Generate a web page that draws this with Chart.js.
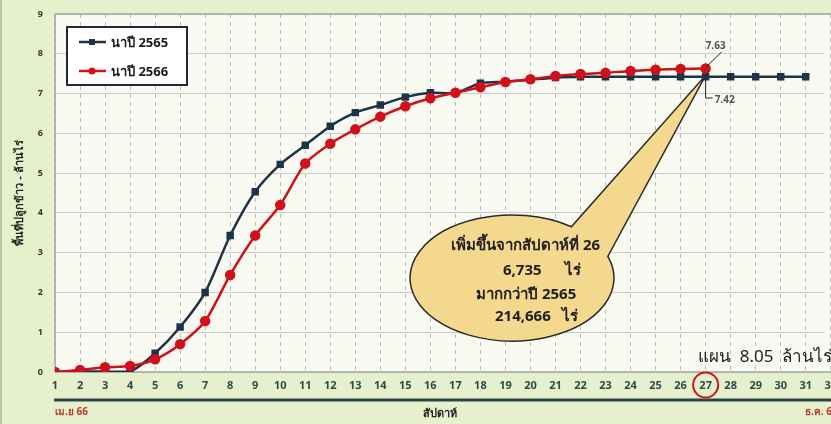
<!DOCTYPE html>
<html>
<head>
<meta charset="utf-8">
<script src="https://cdn.jsdelivr.net/npm/chart.js@4.4.0/dist/chart.umd.min.js"></script>
<style>
  body { margin: 0; background: #e6f0cc; }
</style>
</head>
<body>
<canvas id="riceChart" width="831" height="424"></canvas>
<script>
// weekly cumulative planted area, million rai
const weeks2565 = [1, 2, 3, 4, 5, 6, 7, 8, 9, 10, 11, 12, 13, 14, 15, 16, 17, 18, 19, 20, 21, 22, 23, 24, 25, 26, 27, 28, 29, 30, 31];
const area2565 = [0, 0.02, 0.01, 0.01, 0.47, 1.13, 2.0, 3.43, 4.53, 5.22, 5.7, 6.18, 6.52, 6.71, 6.91, 7.02, 7.02, 7.26, 7.3, 7.35, 7.4, 7.42, 7.42, 7.42, 7.42, 7.42, 7.42, 7.42, 7.42, 7.42, 7.42];
const weeks2566 = [1, 2, 3, 4, 5, 6, 7, 8, 9, 10, 11, 12, 13, 14, 15, 16, 17, 18, 19, 20, 21, 22, 23, 24, 25, 26, 27];
const area2566 = [0, 0.05, 0.12, 0.15, 0.32, 0.7, 1.28, 2.44, 3.43, 4.2, 5.24, 5.74, 6.1, 6.42, 6.68, 6.88, 7.02, 7.16, 7.29, 7.36, 7.44, 7.49, 7.52, 7.57, 7.6, 7.62, 7.63];
const weekTicks = weeks2565.concat([32]);

const seriesNames = ["นาปี 2565", "นาปี 2566"];
const calloutLines = ["เพิ่มขึ้นจากสัปดาห์ที่ 26", "6,735      ไร่", "มากกว่าปี 2565", "214,666   ไร่"];
const planText = "แผน  8.05  ล้านไร่";
const startLabel = "เม.ย 66";
const endLabel = "ธ.ค. 66";
const currentWeek = 27;

const navy = "#1d3447";
const red = "#d0111b";
const thaiFont = "Tahoma, 'Noto Sans', 'DejaVu Sans', sans-serif";

const toPoints = (xs, ys) => xs.map((x, i) => ({ x: x, y: ys[i] }));

const decorations = {
  id: "decorations",
  beforeDraw(chart) {
    const { ctx, chartArea: a, width, height } = chart;
    ctx.save();
    ctx.fillStyle = "#e6f0cc";
    ctx.fillRect(0, 0, width, height);
    ctx.fillStyle = "#f8f9f1";
    ctx.fillRect(a.left, a.top, width - a.left, a.bottom - a.top);
    ctx.strokeStyle = "#b9c4a5";
    ctx.lineWidth = 2;
    ctx.beginPath();
    ctx.moveTo(1, 0);
    ctx.lineTo(1, height);
    ctx.stroke();
    ctx.restore();
  },
  beforeDatasetsDraw(chart) {
    const { ctx, chartArea: a, width } = chart;
    ctx.save();
    ctx.strokeStyle = "#a4a4a4";
    ctx.lineWidth = 1.5;
    ctx.beginPath();
    ctx.moveTo(a.left, a.top);
    ctx.lineTo(width, a.top);
    ctx.moveTo(a.left, a.bottom);
    ctx.lineTo(width, a.bottom);
    ctx.moveTo(a.left, a.top);
    ctx.lineTo(a.left, a.bottom);
    ctx.stroke();
    ctx.restore();
  },
  afterDraw(chart) {
    const { ctx, chartArea: a, width } = chart;
    const xs = chart.scales.x, ys = chart.scales.y;
    ctx.save();

    // dark band line under week numbers
    ctx.strokeStyle = "#2a4646";
    ctx.lineWidth = 3;
    ctx.beginPath();
    ctx.moveTo(a.left - 1, 400);
    ctx.lineTo(width, 400);
    ctx.stroke();

    ctx.fillStyle = "#c0392b";
    ctx.font = "bold 10px " + thaiFont;
    ctx.textBaseline = "middle";
    ctx.textAlign = "left";
    ctx.fillText(startLabel, a.left, 412);
    ctx.fillText(endLabel, 805, 412);

    // red ring around current week label
    ctx.strokeStyle = "#c8171e";
    ctx.lineWidth = 2;
    ctx.beginPath();
    ctx.arc(xs.getPixelForValue(currentWeek), 385, 12.5, 0, Math.PI * 2);
    ctx.stroke();

    // speech callout
    const tipX = xs.getPixelForValue(currentWeek);
    const tipY = ys.getPixelForValue(7.46);
    const cx = 512, cy = 278, rx = 102, ry = 63;
    const a1 = -0.95, a2 = -0.35;
    ctx.beginPath();
    ctx.ellipse(cx, cy, rx, ry, 0, a2, a1 + Math.PI * 2, false);
    ctx.lineTo(tipX, tipY);
    ctx.closePath();
    ctx.fillStyle = "#f3d88e";
    ctx.fill();
    ctx.strokeStyle = "#2b2b2b";
    ctx.lineWidth = 1.5;
    ctx.stroke();

    ctx.fillStyle = "#1e1e1e";
    ctx.font = "bold 15px " + thaiFont;
    ctx.textAlign = "left";
    ctx.fillText(calloutLines[0], 451, 246);
    ctx.fillText(calloutLines[1], 503, 271);
    ctx.fillText(calloutLines[2], 476, 295);
    ctx.fillText(calloutLines[3], 495, 317);

    // value labels with leaders
    const p27 = xs.getPixelForValue(currentWeek);
    ctx.strokeStyle = "#222";
    ctx.lineWidth = 1;
    ctx.beginPath();
    ctx.moveTo(p27 + 1, ys.getPixelForValue(7.63) - 2);
    ctx.lineTo(p27 + 16, 52);
    ctx.moveTo(p27, ys.getPixelForValue(7.42) + 3);
    ctx.lineTo(p27, 98);
    ctx.lineTo(p27 + 7, 98);
    ctx.stroke();
    ctx.fillStyle = "#555";
    ctx.font = "bold 10px " + thaiFont;
    ctx.textAlign = "left";
    ctx.fillText("7.63", p27, 46);
    ctx.fillText("7.42", p27 + 9, 100);

    // plan text
    ctx.fillStyle = "#1e1e1e";
    ctx.font = "17px " + thaiFont;
    ctx.fillText(planText, 698, 357);

    // legend box
    ctx.fillStyle = "#ffffff";
    ctx.fillRect(67, 27, 120, 58);
    ctx.strokeStyle = "#1d2b38";
    ctx.lineWidth = 2;
    ctx.strokeRect(67, 27, 120, 58);
    const rows = [
      { y: 42, color: navy, style: "rect" },
      { y: 71, color: red, style: "circle" }
    ];
    rows.forEach((r, i) => {
      ctx.strokeStyle = r.color;
      ctx.lineWidth = 2.5;
      ctx.beginPath();
      ctx.moveTo(79, r.y);
      ctx.lineTo(106, r.y);
      ctx.stroke();
      ctx.fillStyle = r.color;
      if (r.style === "rect") {
        ctx.fillRect(89, r.y - 3, 6, 6);
      } else {
        ctx.beginPath();
        ctx.arc(92, r.y, 3.5, 0, Math.PI * 2);
        ctx.fill();
      }
      ctx.fillStyle = "#1b1b1b";
      ctx.font = "bold 13px " + thaiFont;
      ctx.fillText(seriesNames[i], 111, r.y + 1);
    });

    ctx.restore();
  }
};

const ctx = document.getElementById("riceChart").getContext("2d");
const riceChart = new Chart(ctx, {
  type: "line",
  data: {
    datasets: [
      {
        label: seriesNames[0],
        data: toPoints(weeks2565, area2565),
        borderColor: navy,
        backgroundColor: navy,
        borderWidth: 2.5,
        pointStyle: "rect",
        pointRadius: 3.5,
        pointBackgroundColor: navy,
        pointBorderColor: navy,
        tension: 0.25,
        order: 2
      },
      {
        label: seriesNames[1],
        data: toPoints(weeks2566, area2566),
        borderColor: red,
        backgroundColor: red,
        borderWidth: 2.5,
        pointStyle: "circle",
        pointRadius: 4,
        pointBackgroundColor: red,
        pointBorderColor: red,
        tension: 0.25,
        order: 1
      }
    ]
  },
  options: {
    responsive: false,
    animation: false,
    layout: { padding: { top: 14, left: 0, right: 0, bottom: 0 } },
    plugins: {
      legend: { display: false },
      tooltip: { enabled: false }
    },
    scales: {
      x: {
        type: "linear",
        min: 1,
        max: 31.75,
        afterBuildTicks: (s) => { s.ticks = weekTicks.map(v => ({ value: v })); },
        afterFit: (s) => { s.height = 52; s.paddingLeft = 0; s.paddingRight = 0; },
        ticks: {
          padding: 7,
          color: "#2f4a4a",
          autoSkip: false,
          maxRotation: 0,
          font: { family: thaiFont, size: 11, weight: "bold" }
        },
        grid: {
          color: "#bdbdbd",
          drawTicks: false
        },
        border: { display: false, dash: [4, 4] },
        title: {
          display: true,
          text: "สัปดาห์",
          color: "#222",
          font: { family: thaiFont, size: 11, weight: "bold" },
          padding: { top: 0, bottom: 4 }
        }
      },
      y: {
        min: 0,
        max: 9,
        afterFit: (s) => { s.width = 55; s.paddingTop = 0; s.paddingBottom = 0; },
        ticks: {
          stepSize: 1,
          padding: 12,
          color: "#333",
          font: { family: thaiFont, size: 9, weight: "bold" }
        },
        grid: {
          color: "#cdcdcd",
          drawTicks: false
        },
        border: { display: false },
        title: {
          display: true,
          text: "พื้นที่ปลูกข้าว - ล้านไร่",
          color: "#222",
          font: { family: thaiFont, size: 11, weight: "bold" },
          padding: { top: 13, bottom: 0 }
        }
      }
    }
  },
  plugins: [decorations]
});
</script>
</body>
</html>
